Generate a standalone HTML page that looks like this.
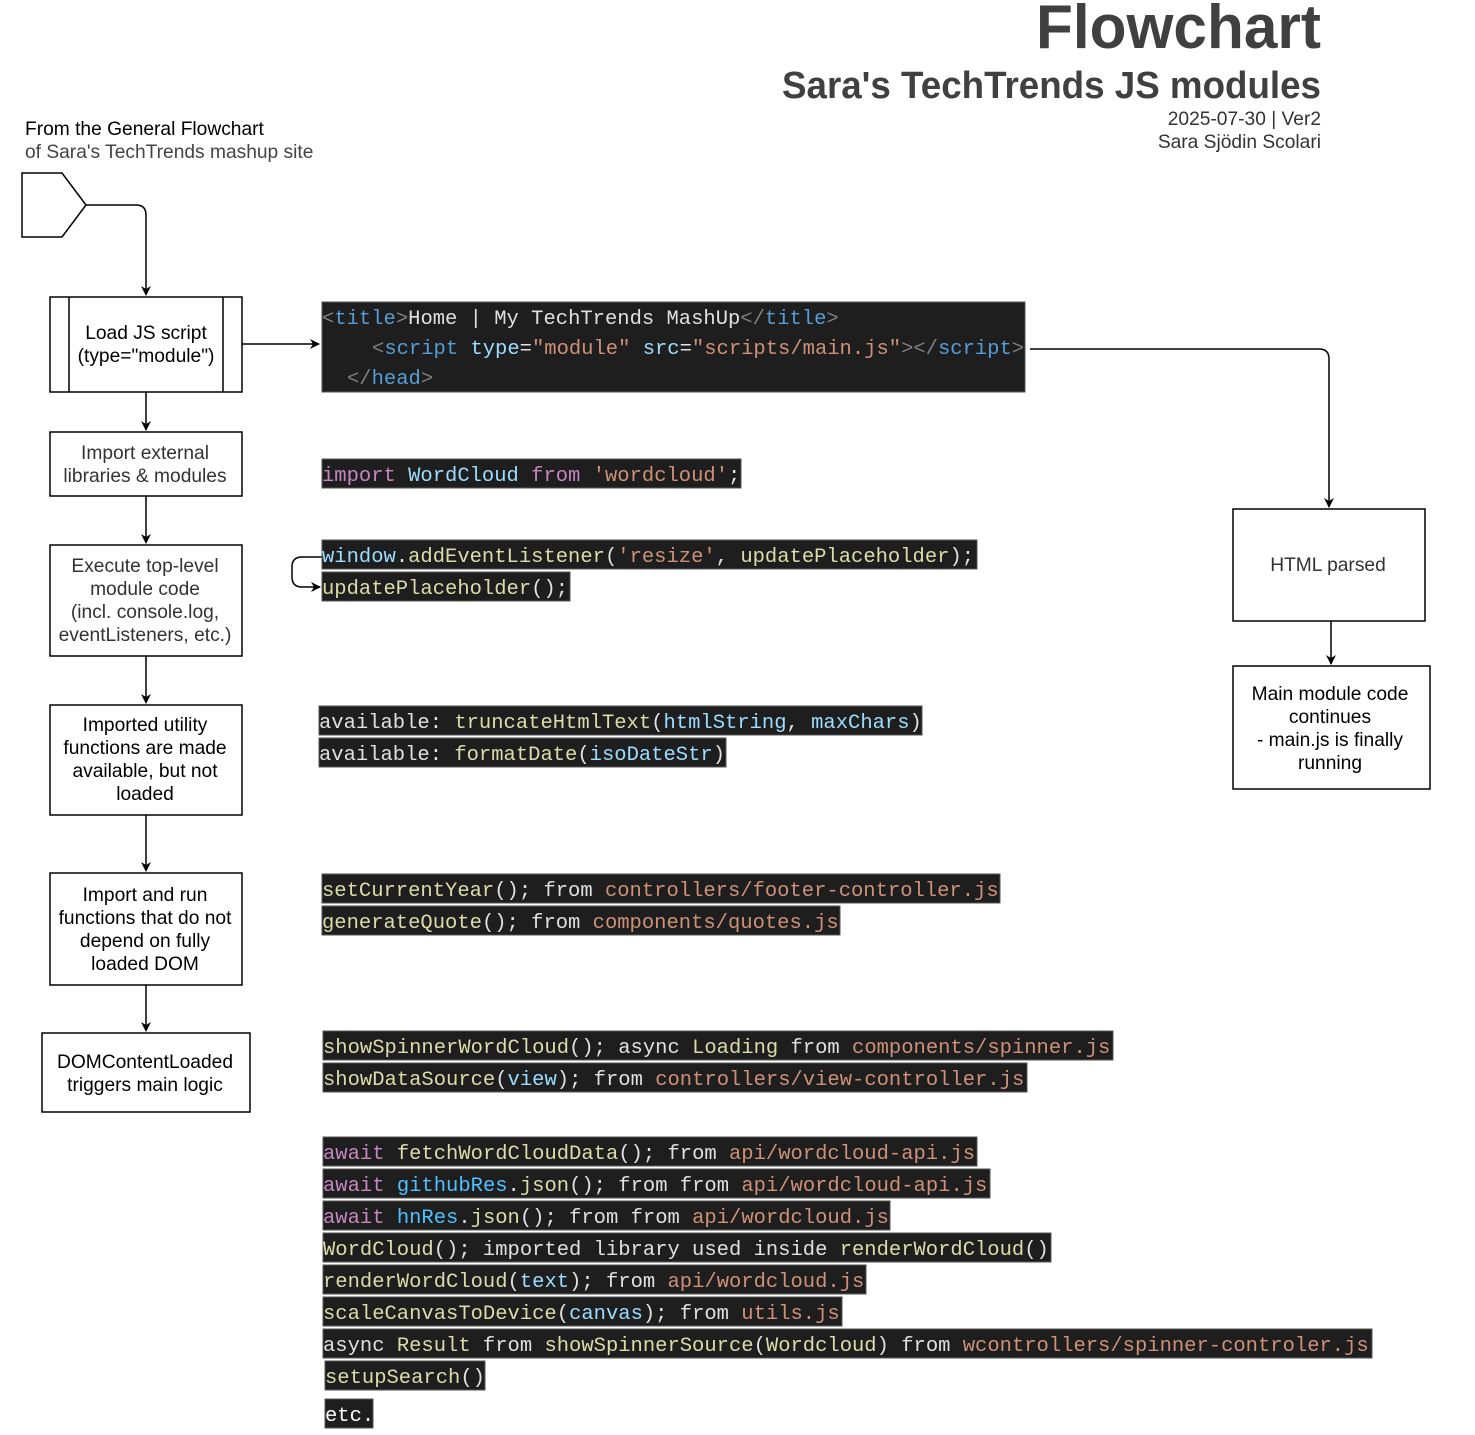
<!DOCTYPE html>
<html><head><meta charset="utf-8"><style>
html,body{margin:0;padding:0;background:#fff;}
svg{display:block}
.s{font-family:"Liberation Sans",Arial,sans-serif;font-size:19.2px;}
.m{font-family:"Liberation Mono",monospace;font-size:20.5px;fill:#e0e0e0;}
.y{fill:#dcdcaa}.b{fill:#9cdcfe}.k{fill:#569cd6}.p{fill:#c586c0}.o{fill:#ce9178}.g{fill:#808080}.c{fill:#4fc1ff}
</style></head><body>
<svg width="1475" height="1435" viewBox="0 0 1475 1435" xmlns="http://www.w3.org/2000/svg">
<defs><marker id="a" markerWidth="10" markerHeight="10" refX="9" refY="5" orient="auto" markerUnits="userSpaceOnUse"><path d="M0,0 L10,5 L0,10 L3,5 z" fill="#000"/></marker></defs>

<text x="1321" y="48" text-anchor="end" font-family="Liberation Sans" font-weight="bold" font-size="62" fill="#404040" textLength="285" lengthAdjust="spacingAndGlyphs">Flowchart</text>
<text x="1321" y="98" text-anchor="end" font-family="Liberation Sans" font-weight="bold" font-size="38" fill="#404040" textLength="539" lengthAdjust="spacingAndGlyphs">Sara's TechTrends JS modules</text>
<text x="1321" y="125" text-anchor="end" class="s" fill="#333">2025-07-30 | Ver2</text>
<text x="1321" y="148" text-anchor="end" class="s" fill="#333">Sara Sjödin Scolari</text>
<text x="25" y="135" class="s" fill="#000">From the General Flowchart</text>
<text x="25" y="158" class="s" fill="#444">of Sara's TechTrends mashup site</text>

<g fill="#fff" stroke="#000" stroke-width="1.5">
<polygon points="22,173 62,173 86,205 62,237 22,237"/>
<rect x="50" y="297" width="192" height="95"/>
<line x1="69" y1="297" x2="69" y2="392"/><line x1="223" y1="297" x2="223" y2="392"/>
<rect x="50" y="432" width="192" height="64"/>
<rect x="50" y="545" width="192" height="111"/>
<rect x="50" y="705" width="192" height="110"/>
<rect x="50" y="873" width="192" height="112"/>
<rect x="42" y="1033" width="208" height="79"/>
<rect x="1233" y="509" width="192" height="112"/>
<rect x="1233" y="666" width="197" height="123"/>
</g>
<g fill="none" stroke="#000" stroke-width="1.5" marker-end="url(#a)">
<path d="M86,205 H136 Q146,205 146,215 V295"/>
<path d="M146,392 V430"/>
<path d="M146,496 V543"/>
<path d="M146,656 V703"/>
<path d="M146,815 V871"/>
<path d="M146,985 V1031"/>
<path d="M242,344 H319"/>
<path d="M1030,349 H1319 Q1329,349 1329,359 V507"/>
<path d="M1331,621 V664"/>
<path d="M322,557 H302 Q292,557 292,567 V577 Q292,587 302,587 H320"/>
</g>

<g class="s" text-anchor="middle" fill="#000">
<text x="146" y="339">Load JS script</text><text x="146" y="362">(type="module")</text>
<text x="145" y="459" fill="#333">Import external</text><text x="145" y="482" fill="#333">libraries &amp; modules</text>
<text x="145" y="572" fill="#333">Execute top-level</text><text x="145" y="595" fill="#333">module code</text><text x="145" y="618" fill="#333">(incl. console.log,</text><text x="145" y="641" fill="#333">eventListeners, etc.)</text>
<text x="145" y="731">Imported utility</text><text x="145" y="754">functions are made</text><text x="145" y="777">available, but not</text><text x="145" y="800">loaded</text>
<text x="145" y="901">Import and run</text><text x="145" y="924">functions that do not</text><text x="145" y="947">depend on fully</text><text x="145" y="970">loaded DOM</text>
<text x="145" y="1068">DOMContentLoaded</text><text x="145" y="1091">triggers main logic</text>
<text x="1328" y="571" fill="#333">HTML parsed</text>
<text x="1330" y="700">Main module code</text><text x="1330" y="723">continues</text><text x="1330" y="746">- main.js is finally</text><text x="1330" y="769">running</text>
</g>

<g fill="#1e1e1e" stroke="#555" stroke-width="1">
<rect x="322" y="302" width="703" height="90"/>
<rect x="322" y="459" width="419" height="29"/>
<rect x="322" y="540" width="655" height="29"/>
<rect x="322" y="572" width="248" height="29"/>
<rect x="319" y="706" width="603" height="29"/>
<rect x="319" y="738" width="407" height="29"/>
<rect x="322" y="874" width="678" height="29"/>
<rect x="322" y="906" width="518" height="29"/>
<rect x="323" y="1031" width="790" height="29"/>
<rect x="323" y="1063" width="704" height="29"/>
<rect x="323" y="1137" width="654" height="29"/>
<rect x="323" y="1169" width="667" height="29"/>
<rect x="323" y="1201" width="567" height="29"/>
<rect x="323" y="1233" width="728" height="29"/>
<rect x="323" y="1265" width="543" height="29"/>
<rect x="323" y="1297" width="519" height="29"/>
<rect x="323" y="1329" width="1049" height="29"/>
<rect x="325" y="1361" width="160" height="29"/>
<rect x="325" y="1399" width="48" height="29"/>
</g>

<g class="m">
<text x="322" y="324"><tspan class="g">&lt;</tspan><tspan class="k">title</tspan><tspan class="g">&gt;</tspan>Home | My TechTrends MashUp<tspan class="g">&lt;/</tspan><tspan class="k">title</tspan><tspan class="g">&gt;</tspan></text>
<text x="372" y="354"><tspan class="g">&lt;</tspan><tspan class="k">script</tspan> <tspan class="b">type</tspan>=<tspan class="o">"module"</tspan> <tspan class="b">src</tspan>=<tspan class="o">"scripts/main.js"</tspan><tspan class="g">&gt;&lt;/</tspan><tspan class="k">script</tspan><tspan class="g">&gt;</tspan></text>
<text x="347" y="384"><tspan class="g">&lt;/</tspan><tspan class="k">head</tspan><tspan class="g">&gt;</tspan></text>
<text x="322" y="481"><tspan class="p">import</tspan> <tspan class="b">WordCloud</tspan> <tspan class="p">from</tspan> <tspan class="o">'wordcloud'</tspan>;</text>
<text x="322" y="562"><tspan class="b">window</tspan>.<tspan class="y">addEventListener</tspan>(<tspan class="o">'resize'</tspan>, <tspan class="y">updatePlaceholder</tspan>);</text>
<text x="322" y="594"><tspan class="y">updatePlaceholder</tspan>();</text>
<text x="319" y="728">available: <tspan class="y">truncateHtmlText</tspan>(<tspan class="b">htmlString</tspan>, <tspan class="b">maxChars</tspan>)</text>
<text x="319" y="760">available: <tspan class="y">formatDate</tspan>(<tspan class="b">isoDateStr</tspan>)</text>
<text x="322" y="896"><tspan class="y">setCurrentYear</tspan>(); from <tspan class="o">controllers/footer-controller.js</tspan></text>
<text x="322" y="928"><tspan class="y">generateQuote</tspan>(); from <tspan class="o">components/quotes.js</tspan></text>
<text x="323" y="1053"><tspan class="y">showSpinnerWordCloud</tspan>(); async <tspan class="y">Loading</tspan> from <tspan class="o">components/spinner.js</tspan></text>
<text x="323" y="1085"><tspan class="y">showDataSource</tspan>(<tspan class="b">view</tspan>); from <tspan class="o">controllers/view-controller.js</tspan></text>
<text x="323" y="1159"><tspan class="p">await</tspan> <tspan class="y">fetchWordCloudData</tspan>(); from <tspan class="o">api/wordcloud-api.js</tspan></text>
<text x="323" y="1191"><tspan class="p">await</tspan> <tspan class="c">githubRes</tspan>.<tspan class="y">json</tspan>(); from from <tspan class="o">api/wordcloud-api.js</tspan></text>
<text x="323" y="1223"><tspan class="p">await</tspan> <tspan class="c">hnRes</tspan>.<tspan class="y">json</tspan>(); from from <tspan class="o">api/wordcloud.js</tspan></text>
<text x="323" y="1255"><tspan class="y">WordCloud</tspan>(); imported library used inside <tspan class="y">renderWordCloud</tspan>()</text>
<text x="323" y="1287"><tspan class="y">renderWordCloud</tspan>(<tspan class="b">text</tspan>); from <tspan class="o">api/wordcloud.js</tspan></text>
<text x="323" y="1319"><tspan class="y">scaleCanvasToDevice</tspan>(<tspan class="b">canvas</tspan>); from <tspan class="o">utils.js</tspan></text>
<text x="323" y="1351">async <tspan class="y">Result</tspan> from <tspan class="y">showSpinnerSource</tspan>(<tspan class="y">Wordcloud</tspan>) from <tspan class="o">wcontrollers/spinner-controler.js</tspan></text>
<text x="325" y="1383"><tspan class="y">setupSearch</tspan>()</text>
<text x="325" y="1421" fill="#fff">etc.</text>
</g>
</svg>
</body></html>
